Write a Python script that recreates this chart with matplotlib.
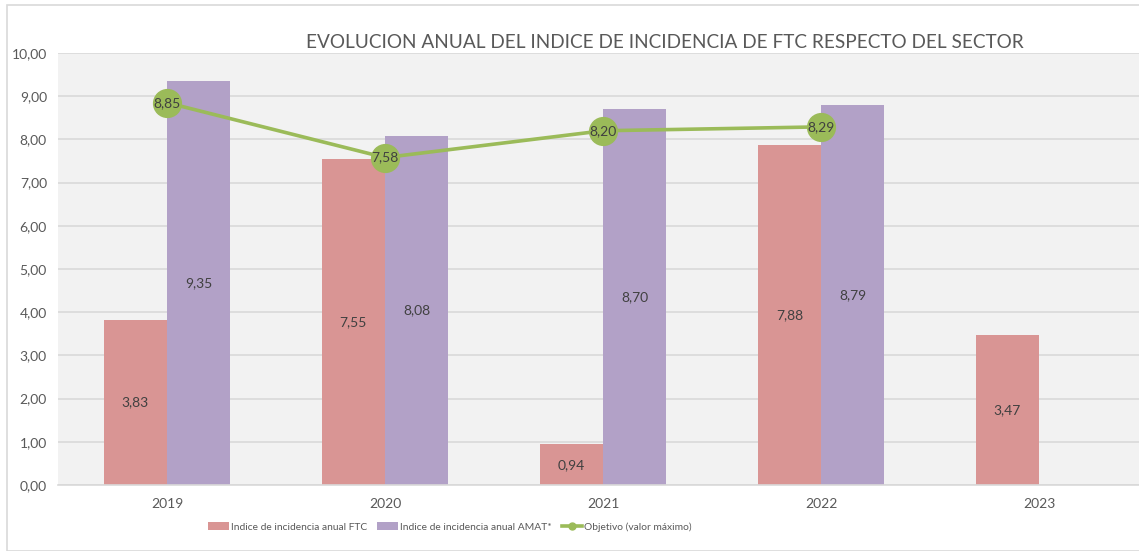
import numpy as np
import matplotlib
matplotlib.use('Agg')
import matplotlib.pyplot as plt
from matplotlib.patches import Rectangle
from matplotlib.lines import Line2D
from matplotlib.ticker import FuncFormatter

plt.rcParams['font.family'] = ['Lato', 'DejaVu Sans']

# Data
years = ['2019', '2020', '2021', '2022', '2023']
ftc = [3.83, 7.55, 0.94, 7.88, 3.47]
amat = [9.35, 8.08, 8.70, 8.79, np.nan]
objetivo = [8.85, 7.58, 8.20, 8.29, np.nan]

c_ftc = '#D99594'
c_amat = '#B2A1C7'
c_obj = '#9BBB59'
c_text = '#595959'

fig = plt.figure(figsize=(11.39, 5.51), dpi=100)
ax = fig.add_axes([58 / 1139, 66 / 551, 1 - 58 / 1139, 432 / 551])
ax.set_facecolor('#F2F2F2')

# outer border of the chart
fig.patches.append(Rectangle((7 / 1139, 0), 1, 546 / 551, transform=fig.transFigure,
                             fill=False, edgecolor='#D9D9D9', linewidth=1.2))

x = np.arange(len(years))
w = 0.29
b1 = ax.bar(x - w / 2, ftc, w, color=c_ftc, label='Indice de incidencia anual FTC', zorder=2)
b2 = ax.bar(x + w / 2, amat, w, color=c_amat, label='Indice de incidencia anual AMAT*', zorder=2)

for bars, vals in [(b1, ftc), (b2, amat)]:
    for rect, v in zip(bars, vals):
        if np.isnan(v):
            continue
        ax.text(rect.get_x() + rect.get_width() / 2, v / 2, f'{v:.2f}'.replace('.', ','),
                ha='center', va='center', fontsize=10, color='#404040', zorder=3)

ax.plot(x, objetivo, color=c_obj, linewidth=2.6, marker='o', markersize=20,
        label='Objetivo (valor máximo)', zorder=4)
for xi, v in zip(x, objetivo):
    if np.isnan(v):
        continue
    ax.text(xi, v, f'{v:.2f}'.replace('.', ','), ha='center', va='center',
            fontsize=10, color='#404040', zorder=5)

ax.set_ylim(0, 10)
ax.set_yticks(np.arange(0, 11, 1))
ax.yaxis.set_major_formatter(FuncFormatter(lambda v, p: f'{v:.2f}'.replace('.', ',')))
ax.set_xlim(-0.5, (1139 - 167) / 218)
ax.set_xticks(x)
ax.set_xticklabels(years)
ax.tick_params(axis='both', length=0, colors=c_text, labelsize=10)
ax.tick_params(axis='y', pad=8)
ax.tick_params(axis='x', pad=9)
ax.grid(axis='y', color='#D9D9D9', linewidth=1.2, zorder=0)
ax.set_axisbelow(True)
for s in ['top', 'right', 'left']:
    ax.spines[s].set_visible(False)
ax.spines['bottom'].set_color('#D9D9D9')
ax.spines['bottom'].set_linewidth(1.2)

fig.text(665 / 1139, 1 - 43 / 551, 'EVOLUCION ANUAL DEL INDICE DE INCIDENCIA DE FTC RESPECTO DEL SECTOR',
         ha='center', va='center', fontsize=13.7, color=c_text)

handles, labels = ax.get_legend_handles_labels()
handles[0] = Line2D([0], [0], color=c_obj, linewidth=2.6, marker='o', markersize=5)
leg = fig.legend(handles[1:] + handles[:1], labels[1:] + labels[:1], loc='center',
                 bbox_to_anchor=(450 / 1139, 1 - 527 / 551), ncol=3, frameon=False,
                 fontsize=7.4, handlelength=2.0, handleheight=0.8, columnspacing=1.0,
                 handletextpad=0.2, labelcolor=c_text)

fig.savefig('out.png', dpi=100)
